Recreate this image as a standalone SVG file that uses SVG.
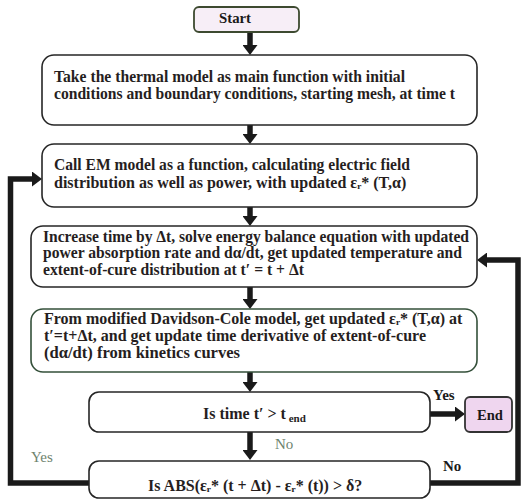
<svg xmlns="http://www.w3.org/2000/svg" width="521" height="501" viewBox="0 0 521 501" font-family="'Liberation Serif', 'Times New Roman', serif">
<style>
.box{fill:#ffffff;stroke:#262626;stroke-width:1.6}
.term{fill:#f7eef7;stroke:#3d4a30;stroke-width:1.8}
.t{font-size:16px;font-weight:bold;fill:#261e1e}
.c{font-size:15px;font-weight:bold;fill:#1a1a1a}
.g{font-size:15px;fill:#6e836e}
.conn{fill:none;stroke:#1a1a1a;stroke-width:5.5}
.sub{font-size:11px}
</style>
<defs>
<marker id="ah" markerUnits="userSpaceOnUse" markerWidth="10" markerHeight="15" viewBox="0 0 10 15" refX="1" refY="7.5" orient="auto">
<path d="M0,0 L10,7.5 L0,15 z" fill="#1a1a1a"/>
</marker>
</defs>
<rect width="521" height="501" fill="#ffffff"/>

<g id="connectors">
<line class="conn" x1="250" y1="32" x2="250" y2="46" marker-end="url(#ah)"/>
<line class="conn" x1="250" y1="125" x2="250" y2="135" marker-end="url(#ah)"/>
<line class="conn" x1="250" y1="207" x2="250" y2="217" marker-end="url(#ah)"/>
<line class="conn" x1="250" y1="287" x2="250" y2="300" marker-end="url(#ah)"/>
<line class="conn" x1="250" y1="372" x2="250" y2="383" marker-end="url(#ah)"/>
<line class="conn" x1="250" y1="432" x2="250" y2="451" marker-end="url(#ah)"/>
<line class="conn" x1="430" y1="414" x2="456" y2="414" marker-end="url(#ah)"/>
<polyline class="conn" points="89,483 10.5,483 10.5,179 33,179" marker-end="url(#ah)"/>
<polyline class="conn" points="430,483 518,483 518,260 486,260" marker-end="url(#ah)"/>
<text class="c" x="433" y="400" font-family="Liberation Serif">Yes</text>
<text class="c" x="443" y="471" font-family="Liberation Serif">No</text>
<text class="g" x="275" y="449" font-family="Liberation Serif">No</text>
<text class="g" x="31" y="462" font-family="Liberation Serif">Yes</text>
</g>

<g id="start" font-family="Liberation Serif">
<rect class="term" x="194" y="7" width="105" height="25" rx="5"/>
<text class="c" x="219" y="23" textLength="32" lengthAdjust="spacingAndGlyphs">Start</text>
</g>

<g id="thermal-model" font-family="Liberation Serif">
<rect class="box" x="42" y="55" width="435" height="70" rx="12"/>
<text class="t" x="54" y="82" textLength="351" lengthAdjust="spacingAndGlyphs">Take the thermal model as main function with initial</text>
<text class="t" x="54" y="99" textLength="401" lengthAdjust="spacingAndGlyphs">conditions and boundary conditions, starting mesh, at time t</text>
</g>

<g id="em-model" font-family="Liberation Serif">
<rect class="box" x="42" y="144" width="435" height="63" rx="12"/>
<text class="t" x="54" y="170" textLength="356" lengthAdjust="spacingAndGlyphs">Call EM model as a function, calculating electric field</text>
<text class="t" x="54" y="188">distribution as well as power, with updated εᵣ* (T,α)</text>
</g>

<g id="energy-balance" font-family="Liberation Serif">
<rect class="box" x="31" y="226" width="446" height="61" rx="12"/>
<text class="t" x="43" y="242" textLength="426" lengthAdjust="spacingAndGlyphs">Increase time by Δt, solve energy balance equation with updated</text>
<text class="t" x="43" y="258" textLength="419" lengthAdjust="spacingAndGlyphs">power absorption rate and dα/dt, get updated temperature and</text>
<text class="t" x="43" y="275" textLength="261" lengthAdjust="spacingAndGlyphs">extent-of-cure distribution at t′ = t + Δt</text>
</g>

<g id="davidson-cole" font-family="Liberation Serif">
<rect class="box" x="31" y="309" width="446" height="63" rx="12" style="stroke:#34503a"/>
<text class="t" x="44" y="324">From modified Davidson-Cole model, get updated εᵣ* (T,α) at</text>
<text class="t" x="44" y="341" textLength="382" lengthAdjust="spacingAndGlyphs">t′=t+Δt, and get update time derivative of extent-of-cure</text>
<text class="t" x="44" y="358" textLength="196" lengthAdjust="spacingAndGlyphs">(dα/dt) from kinetics curves</text>
</g>

<g id="time-check" font-family="Liberation Serif">
<rect class="box" x="89" y="392" width="341" height="40" rx="10"/>
<text class="t" x="203" y="419">Is time t′ &gt; t<tspan class="sub" dy="3"> end</tspan></text>
</g>

<g id="end" font-family="Liberation Serif">
<rect class="term" x="465" y="397" width="47" height="35" rx="5" style="fill:#efd6ef;stroke:#333333"/>
<text class="c" x="477" y="420" textLength="26" lengthAdjust="spacingAndGlyphs">End</text>
</g>

<g id="convergence-check" font-family="Liberation Serif">
<rect class="box" x="89" y="461" width="341" height="37" rx="10"/>
<text class="t" x="148" y="491">Is ABS(εᵣ* (t + Δt) - εᵣ* (t)) &gt; δ?</text>
</g>
</svg>
